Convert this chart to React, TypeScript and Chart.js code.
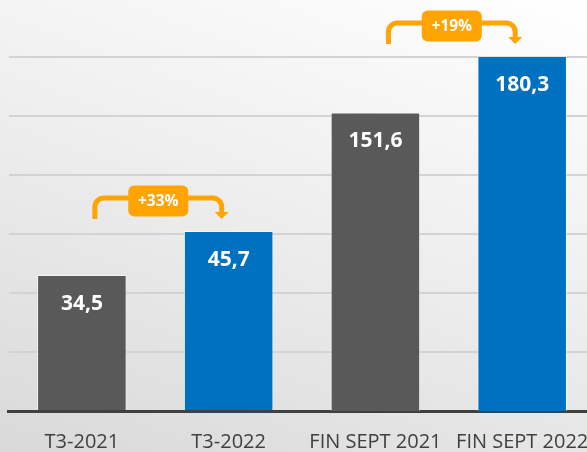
import React, { useEffect, useRef } from "react";
import { Chart, registerables } from "chart.js";

Chart.register(...registerables);

const categories = ["T3-2021", "T3-2022", "FIN SEPT 2021", "FIN SEPT 2022"];
const quarterValues: (number | null)[] = [34.5, 45.7, null, null];
const cumulativeValues: (number | null)[] = [null, null, 151.6, 180.3];
const barColors = ["#595959", "#0070C0", "#595959", "#0070C0"];
const growthLabels = ["+33%", "+19%"];
const growthFrom = [0, 2];
const growthTo = [1, 3];

const ORANGE = "#FFA402";
const FONT = "'Open Sans', 'DejaVu Sans', sans-serif";

function fmt(v: number) {
  return v.toFixed(1).replace(".", ",");
}

const valueLabelPlugin = {
  id: "valueLabels",
  afterDatasetsDraw(chart: any) {
    const ctx = chart.ctx;
    ctx.save();
    ctx.fillStyle = "#ffffff";
    ctx.font = `bold 21px ${FONT}`;
    ctx.textAlign = "center";
    ctx.textBaseline = "middle";
    chart.data.datasets.forEach((ds: any, di: number) => {
      const meta = chart.getDatasetMeta(di);
      meta.data.forEach((bar: any, i: number) => {
        const v = ds.data[i];
        if (v == null) return;
        ctx.fillText(fmt(v), bar.x, bar.y + 29);
      });
    });
    ctx.restore();
  },
};

function roundRect(ctx: any, x: number, y: number, w: number, h: number, r: number) {
  ctx.beginPath();
  ctx.moveTo(x + r, y);
  ctx.lineTo(x + w - r, y);
  ctx.arcTo(x + w, y, x + w, y + r, r);
  ctx.lineTo(x + w, y + h - r);
  ctx.arcTo(x + w, y + h, x + w - r, y + h, r);
  ctx.lineTo(x + r, y + h);
  ctx.arcTo(x, y + h, x, y + h - r, r);
  ctx.lineTo(x, y + r);
  ctx.arcTo(x, y, x + r, y, r);
  ctx.closePath();
}

const growthPlugin = {
  id: "growthArrows",
  afterDatasetsDraw(chart: any) {
    const ctx = chart.ctx;
    const xs = chart.scales.x;
    ctx.save();
    growthLabels.forEach((label, k) => {
      const a = growthFrom[k];
      const b = growthTo[k];
      const dsIndex = b < 2 ? 0 : 1;
      const bar = chart.getDatasetMeta(dsIndex).data[b];
      const x1 = xs.getPixelForValue(a) + 13;
      const x2 = xs.getPixelForValue(b) - 7;
      const yBottom = bar.y - 12;
      const yTop = yBottom - 21;
      const r = 9;
      ctx.strokeStyle = ORANGE;
      ctx.lineWidth = 5;
      ctx.lineCap = "butt";
      ctx.beginPath();
      ctx.moveTo(x1, yBottom);
      ctx.lineTo(x1, yTop + r);
      ctx.arcTo(x1, yTop, x1 + r, yTop, r);
      ctx.lineTo(x2 - r, yTop);
      ctx.arcTo(x2, yTop, x2, yTop + r, r);
      ctx.lineTo(x2, yBottom - 6);
      ctx.stroke();
      ctx.fillStyle = ORANGE;
      ctx.beginPath();
      ctx.moveTo(x2 - 7, yBottom - 7);
      ctx.lineTo(x2 + 7, yBottom - 7);
      ctx.lineTo(x2, yBottom);
      ctx.closePath();
      ctx.fill();
      const mid = (x1 + x2) / 2;
      const bw = 60;
      const bh = 31;
      const cy = yTop + 3;
      roundRect(ctx, mid - bw / 2, cy - bh / 2, bw, bh, 6);
      ctx.fill();
      ctx.fillStyle = "#ffffff";
      ctx.font = `bold 15.5px ${FONT}`;
      ctx.textAlign = "center";
      ctx.textBaseline = "middle";
      ctx.fillText(label, mid, cy + 1);
    });
    ctx.restore();
  },
};

export default function App() {
  const ref = useRef<HTMLCanvasElement | null>(null);
  useEffect(() => {
    if (!ref.current) return;
    const chart = new Chart(ref.current, {
      type: "bar",
      data: {
        labels: categories,
        datasets: [
          {
            data: quarterValues,
            yAxisID: "y",
            backgroundColor: barColors,
            borderColor: "rgba(255,255,255,0.55)",
            borderWidth: 1,
            grouped: false,
            categoryPercentage: 0.61,
            barPercentage: 1,
          } as any,
          {
            data: cumulativeValues,
            yAxisID: "y2",
            backgroundColor: barColors,
            borderColor: "rgba(255,255,255,0.55)",
            borderWidth: 1,
            grouped: false,
            categoryPercentage: 0.61,
            barPercentage: 1,
          } as any,
        ],
      },
      options: {
        animation: false,
        responsive: false,
        devicePixelRatio: 1,
        layout: { padding: { left: 8.5, right: 5.6, top: 56.5, bottom: 0 } },
        plugins: { legend: { display: false }, tooltip: { enabled: false } },
        scales: {
          x: {
            grid: { display: false, drawTicks: false },
            border: { display: true, color: "#404040", width: 3 },
            ticks: {
              color: "#404040",
              font: { family: FONT, size: 20 },
              padding: 19,
              autoSkip: false,
              maxRotation: 0,
            },
          },
          y: {
            position: "left",
            min: 0,
            max: 90,
            ticks: { display: false, stepSize: 15 },
            border: { display: false },
            grid: {
              drawTicks: false,
              lineWidth: 2,
              color: (c: any) => (c.tick && c.tick.value === 0 ? "rgba(0,0,0,0)" : "#d3d3d3"),
            },
          },
          y2: {
            position: "right",
            display: false,
            min: 0,
            max: 180,
            ticks: { stepSize: 30 },
            grid: { display: false },
          },
        },
      } as any,
      plugins: [valueLabelPlugin, growthPlugin],
    });
    return () => chart.destroy();
  }, []);

  return (
    <div
      style={{
        position: "fixed",
        left: 0,
        top: 0,
        width: 587,
        height: 452,
        overflow: "hidden",
        background: "linear-gradient(200deg, #ffffff 0%, #efefef 45%, #d9d9d9 100%)",
      }}
    >
      <canvas
        ref={ref}
        width={608}
        height={473}
        style={{ position: "absolute", left: 0, top: 0, width: 608, height: 473 }}
      />
    </div>
  );
}
